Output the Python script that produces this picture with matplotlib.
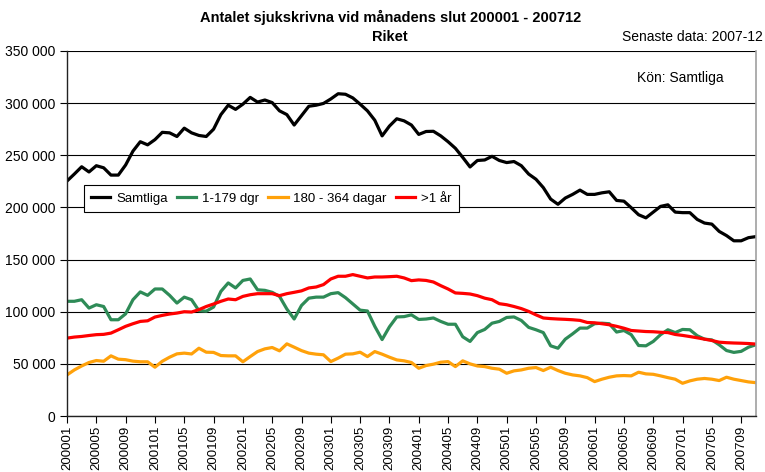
import numpy as np
import matplotlib.pyplot as plt
from matplotlib.ticker import FuncFormatter, MultipleLocator

plt.rcParams['font.family'] = ['Liberation Sans', 'DejaVu Sans']

# months 200001 .. 200711
months = ['%d%02d' % (y, m) for y in range(2000, 2008) for m in range(1, 13)][:95]

samtliga = [225300, 232000, 239000, 234000, 240000, 238000, 231000, 231000, 240700, 254000,
            263000, 260000, 265000, 272000, 271500, 268000, 276000, 271500, 269000, 268000,
            275000, 289000, 298000, 294000, 299000, 305500, 301000, 303000, 300500, 292600,
            289000, 279000, 288000, 297000, 298000, 299700, 304000, 309000, 308500, 305000,
            299000, 292600, 283600, 268600, 278000, 285000, 283000, 279000, 270000, 272800,
            273000, 268600, 263000, 256700, 248000, 238800, 245000, 245500, 249000, 245000,
            243000, 244000, 240000, 232000, 227000, 219000, 208000, 203000, 209000, 212500,
            216600, 212500, 212500, 214000, 215000, 206700, 206000, 199700, 193000, 190000,
            195500, 201000, 202500, 195500, 195000, 195000, 188500, 185000, 184000, 177000,
            173000, 168000, 168000, 171000, 172000]

dgr_1_179 = [110000, 110000, 111500, 103500, 106700, 105000, 92300, 92300, 98000, 111500,
             119000, 115700, 121800, 121800, 115700, 108300, 114000, 111500, 101000, 100500,
             104500, 119500, 127600, 122800, 130000, 131400, 121000, 120500, 118600, 114700,
             102600, 93000, 106000, 113000, 114000, 114000, 117300, 118300, 113500, 107500,
             101500, 100700, 86000, 73300, 85500, 95000, 95300, 97000, 92600, 93000,
             94000, 90700, 88000, 88000, 76000, 71500, 80000, 83000, 89000, 90700,
             94500, 95000, 91600, 85000, 82700, 80000, 67300, 65000, 73700, 78800,
             84300, 84300, 88500, 89000, 88500, 80500, 82000, 78000, 67600, 67300,
             71500, 78000, 82700, 80000, 83000, 82700, 77000, 73700, 73000, 68300,
             62800, 61000, 62000, 66000, 68300]

dgr_180_364 = [39400, 44200, 48000, 51300, 53200, 52500, 57700, 54500, 54000, 52600,
               52000, 52000, 46800, 52500, 56400, 59600, 60300, 59500, 65000, 61200,
               61000, 58000, 57700, 57700, 52000, 57000, 61800, 64400, 65700, 62500,
               69200, 66000, 62700, 60300, 59300, 58700, 52200, 55500, 59300, 59600,
               61200, 57000, 61800, 59300, 56400, 53800, 52900, 51300, 45800, 48400,
               49700, 51600, 52200, 47400, 52900, 50000, 48000, 47400, 45800, 44900,
               41000, 43300, 44200, 45800, 46500, 43600, 46800, 43600, 41000, 39400,
               38500, 36800, 33000, 35300, 37200, 38500, 38800, 38500, 42000, 40400,
               40000, 38500, 36800, 35300, 31400, 33700, 35300, 36000, 35300, 34000,
               37200, 35300, 34000, 32700, 32000]

over_1_ar = [74700, 75700, 76300, 77200, 78000, 78300, 79500, 82700, 86000, 88500,
             90700, 91300, 94900, 96500, 97800, 98700, 100000, 99700, 102000, 105000,
             107400, 110000, 112200, 111500, 114700, 116300, 117300, 117300, 117300, 115400,
             117300, 118600, 120000, 122800, 123700, 126000, 131400, 134000, 134000, 135600,
             134000, 132400, 133300, 133300, 133600, 134000, 132400, 129800, 130500, 130000,
             128500, 125000, 121800, 118000, 117600, 117000, 115400, 113000, 111500, 107700,
             106700, 105000, 103000, 100300, 97000, 94000, 93400, 93000, 92700, 92300,
             91700, 89700, 89400, 88500, 87500, 86000, 84200, 82000, 81500, 81000,
             80800, 80300, 80000, 78200, 77300, 76200, 75000, 73700, 72400, 70800,
             70300, 70000, 69800, 69500, 69000]

series = [samtliga, dgr_1_179, dgr_180_364, over_1_ar]
legend = ['Samtliga', '1-179 dgr', '180 - 364 dagar', '>1 år']
colors = ['#000000', '#2e8b57', '#ffa10a', '#ff0000']

fig = plt.figure(figsize=(7.65, 4.72), dpi=100)
ax = fig.add_axes([0.0876, 0.1186, 0.9004, 0.7734])

x = np.arange(len(months))
for val, leg, c in zip(series, legend, colors):
    ax.plot(x, val, c=c, lw=2.3, label=leg, solid_joinstyle='round')

ax.set_xlim(0, len(months) - 1)
ax.set_ylim(0, 350000)
ax.yaxis.set_major_locator(MultipleLocator(50000))
ax.yaxis.set_major_formatter(FuncFormatter(lambda v, p: '{:,.0f}'.format(v).replace(',', ' ')))
ax.grid(axis='y', color='k', lw=0.8)
ax.set_axisbelow(True)

ticks = x[::4]
ax.set_xticks(ticks)
ax.set_xticklabels([months[i] for i in ticks], rotation=90, fontsize=9.5)
ax.tick_params(axis='y', labelsize=10, length=5, width=0.8, direction='out')
ax.tick_params(axis='x', length=5, width=0.8, direction='out', pad=2)

for s in ['left', 'bottom']:
    ax.spines[s].set_color('#222222')
    ax.spines[s].set_linewidth(1.0)
ax.spines['right'].set_color('#a0a0a0')
ax.spines['right'].set_linewidth(1.2)
ax.spines['top'].set_visible(False)

ax.legend(loc='upper left', bbox_to_anchor=(0.0247, 0.632), ncol=4, fontsize=9.5,
          frameon=True, fancybox=False, edgecolor='k', framealpha=1,
          handlelength=1.45, columnspacing=0.7, handletextpad=0.45, borderaxespad=0,
          borderpad=0.55)
ax.get_legend().get_frame().set_linewidth(0.8)

ax.text(0.827, 0.926, 'Kön: Samtliga', transform=ax.transAxes, fontsize=10, va='center')
fig.text(0.51, 0.963, 'Antalet sjukskrivna vid månadens slut 200001 - 200712',
         ha='center', va='center', fontsize=10.5, fontweight='bold')
fig.text(0.51, 0.921, 'Riket', ha='center', va='center', fontsize=10.5, fontweight='bold')
fig.text(0.997, 0.921, 'Senaste data: 2007-12', ha='right', va='center', fontsize=10)

fig.savefig('out.png', dpi=100)
plt.close()
